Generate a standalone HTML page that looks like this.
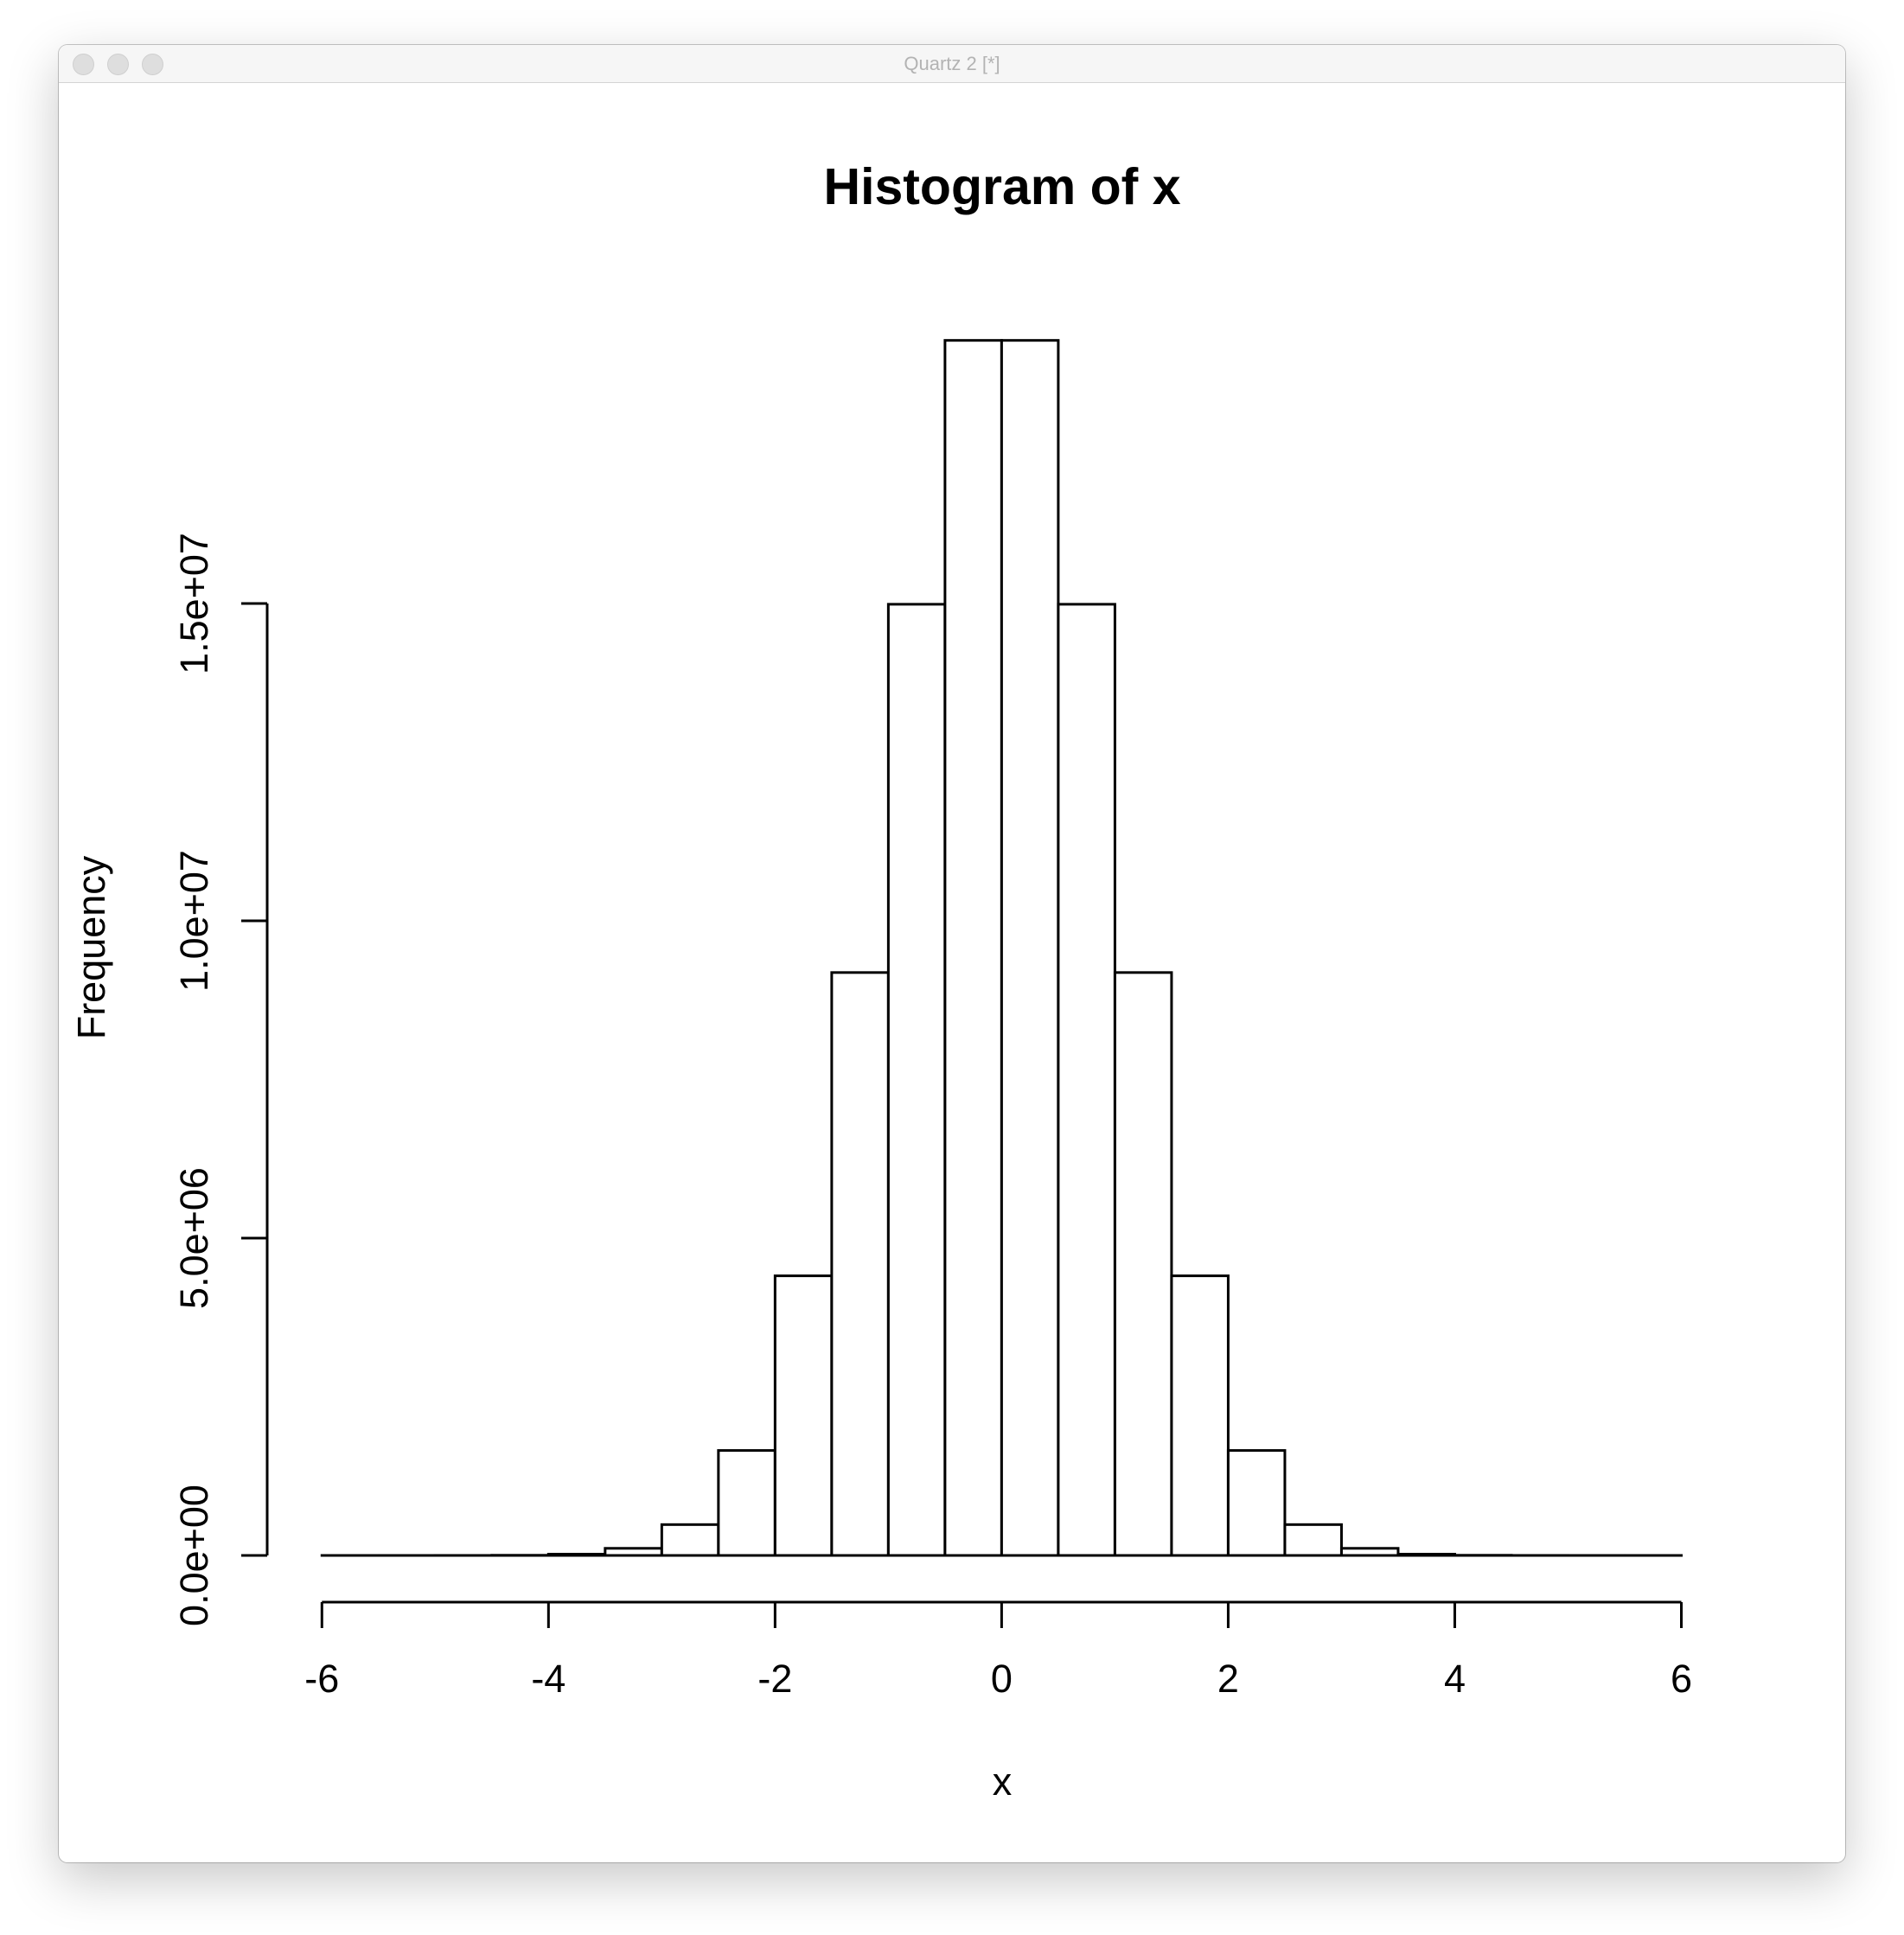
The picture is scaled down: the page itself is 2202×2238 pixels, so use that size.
<!DOCTYPE html>
<html><head><meta charset="utf-8"><style>
html,body{margin:0;padding:0;background:#fff;}
body{width:2202px;height:2238px;position:relative;overflow:hidden;font-family:"Liberation Sans",sans-serif;}
#win{position:absolute;left:68px;top:52px;width:2066px;height:2102px;border-radius:10px;background:#fff;box-shadow:0 20px 60px rgba(0,0,0,0.22),0 0 0 1px #c8c8c8;overflow:hidden;}
#bar{position:absolute;left:0;top:0;width:100%;height:43px;background:#f6f6f6;border-bottom:1px solid #d4d4d4;}
.dot{position:absolute;top:10px;width:23px;height:23px;border-radius:50%;background:#dedede;border:1px solid #cfcfcf;}
#wt{position:absolute;left:0;right:0;top:9px;text-align:center;font-size:22px;color:#b3b3b3;}
svg{position:absolute;left:0;top:0;}
</style></head><body>
<div id="win">
<div id="bar">
<div class="dot" style="left:16px"></div>
<div class="dot" style="left:56px"></div>
<div class="dot" style="left:96px"></div>
<div id="wt">Quartz 2 [*]</div>
</div>
</div>
<svg id="chart" width="2202" height="2238">
<text x="1159" y="236" font-family="Liberation Sans, sans-serif" font-weight="bold" font-size="59" text-anchor="middle">Histogram of x</text>
<text x="1159" y="2076" font-family="Liberation Sans, sans-serif" font-size="45" text-anchor="middle">x</text>
<text transform="translate(121,1096) rotate(-90)" font-family="Liberation Sans, sans-serif" font-size="45" text-anchor="middle">Frequency</text>
<g id="bars"></g><g id="xaxis"></g><g id="yaxis"></g>
</svg>
<script>
const binEdges = [-6,-5.5,-5,-4.5,-4,-3.5,-3,-2.5,-2,-1.5,-1,-0.5,0,0.5,1,1.5,2,2.5,3,3.5,4,4.5,5,5.5,6];
const counts = [2,27,310,2830,20100,112000,486000,1654000,4406000,9185000,14988000,19146000,19146000,14988000,9185000,4406000,1654000,486000,112000,20100,2830,310,27,2];
const xTicks = [-6,-4,-2,0,2,4,6];
const xTickLabels = ["-6","-4","-2","0","2","4","6"];
const yTicks = [0,5e6,1e7,1.5e7];
const yTickLabels = ["0.0e+00","5.0e+06","1.0e+07","1.5e+07"];

const NS="http://www.w3.org/2000/svg";
function X(v){return 372.3+(v+6)*(1944.5-372.3)/12;}
function Y(v){return 1799-v*(1799-698)/1.5e7;}
function mk(tag,attrs,parent){const e=document.createElementNS(NS,tag);for(const k in attrs)e.setAttribute(k,attrs[k]);parent.appendChild(e);return e;}
const gb=document.getElementById('bars');
for(let i=0;i<counts.length;i++){
  const x0=X(binEdges[i]),x1=X(binEdges[i+1]),y=Y(counts[i]);
  const r=mk('rect',{x:x0,y:y,width:x1-x0,height:Y(0)-y,fill:'#fff',stroke:'#000','stroke-width':3},gb);
  
  
}
const gx=document.getElementById('xaxis');
const AX=1853;
const xl=mk('line',{x1:X(xTicks[0]),x2:X(xTicks[xTicks.length-1]),y1:AX,y2:AX,stroke:'#000','stroke-width':3},gx);


xTicks.forEach((t,i)=>{
  const tk=mk('line',{x1:X(t),x2:X(t),y1:AX,y2:AX+30,stroke:'#000','stroke-width':3},gx);
  
  
  const tx=mk('text',{x:X(t),y:1957,'font-size':45,'text-anchor':'middle','font-family':'Liberation Sans, sans-serif'},gx);
  tx.textContent=xTickLabels[i];
  
  
});
const gy=document.getElementById('yaxis');
const yl=mk('line',{x1:309,x2:309,y1:Y(yTicks[0]),y2:Y(yTicks[yTicks.length-1]),stroke:'#000','stroke-width':3},gy);


yTicks.forEach((t,i)=>{
  const tk=mk('line',{x1:279,x2:309,y1:Y(t),y2:Y(t),stroke:'#000','stroke-width':3},gy);
  
  
  const tx=mk('text',{transform:'translate(240,'+Y(t)+') rotate(-90)','font-size':45,'text-anchor':'middle','font-family':'Liberation Sans, sans-serif'},gy);
  tx.textContent=yTickLabels[i];
  
  
});
</script>
</body></html>
